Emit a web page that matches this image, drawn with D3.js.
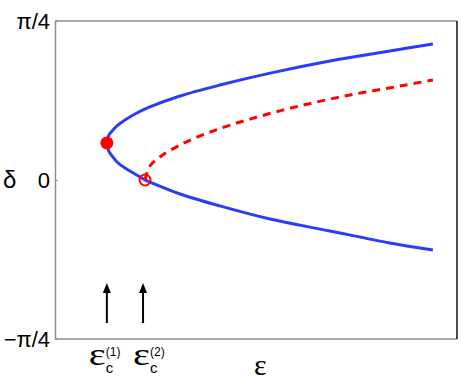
<!DOCTYPE html>
<html>
<head>
<meta charset="utf-8">
<script src="https://cdn.jsdelivr.net/npm/d3@7"></script>
<style>
  body { margin: 0; background: #fff; }
  svg { display: block; }
  .tick text { font-family: "Liberation Sans", Arial, sans-serif; font-size: 22px; fill: #000; }
</style>
</head>
<body>
<svg id="chart" width="461" height="382"></svg>
<script>
// epsilon on an arbitrary 0..1 scale, delta in radians
const upperBranch = [
  [0.129, 0.183], [0.134, 0.222], [0.142, 0.242], [0.157, 0.272], [0.174, 0.296],
  [0.199, 0.326], [0.236, 0.361], [0.311, 0.415], [0.410, 0.469], [0.535, 0.528],
  [0.684, 0.588], [0.833, 0.637], [0.940, 0.672]
];
const lowerBranch = [
  [0.129, 0.183], [0.134, 0.141], [0.142, 0.119], [0.157, 0.084], [0.174, 0.059],
  [0.199, 0.030], [0.224, 0.000], [0.236, -0.010], [0.311, -0.069], [0.410, -0.128],
  [0.535, -0.193], [0.684, -0.252], [0.833, -0.311], [0.940, -0.346]
];
const unstableBranch = [
  [0.224, 0.000], [0.236, 0.069], [0.261, 0.114], [0.311, 0.173], [0.386, 0.237],
  [0.485, 0.301], [0.609, 0.366], [0.734, 0.420], [0.858, 0.464], [0.940, 0.494]
];
const critPoints = [
  { eps: 0.129, delta: 0.183, filled: true, label: '(1)' },
  { eps: 0.224, delta: 0.000, filled: false, label: '(2)' }
];
const yTicks = [-Math.PI / 4, 0, Math.PI / 4];
const yTickLabels = ['\u2212\u03c0/4', '0', '\u03c0/4'];

const svg = d3.select('#chart');
const box = { left: 55, right: 457, top: 21, bottom: 339 };

const x = d3.scaleLinear().domain([0, 1]).range([box.left, box.right]);
const y = d3.scaleLinear().domain([-Math.PI / 4, Math.PI / 4]).range([box.bottom, box.top]);

// frame
svg.append('line').attr('x1', box.left).attr('x2', box.right).attr('y1', box.top).attr('y2', box.top)
  .attr('stroke', '#8c8c8c').attr('stroke-width', 1.5);
svg.append('line').attr('x1', box.left).attr('x2', box.right).attr('y1', box.bottom).attr('y2', box.bottom)
  .attr('stroke', '#8c8c8c').attr('stroke-width', 1.5);
svg.append('line').attr('x1', box.right).attr('x2', box.right).attr('y1', box.top).attr('y2', box.bottom)
  .attr('stroke', '#111').attr('stroke-width', 1.5);

const yAxis = d3.axisLeft(y).tickValues(yTicks)
  .tickFormat((d, i) => yTickLabels[i]).tickSizeInner(-3).tickSizeOuter(0).tickPadding(5);
const gy = svg.append('g').attr('transform', `translate(${box.left},0)`).call(yAxis);
gy.select('.domain').attr('stroke', '#8c8c8c').attr('stroke-width', 1.5);
gy.selectAll('.tick line').attr('stroke', '#8c8c8c');
gy.selectAll('.tick text').attr('dy', '0.35em');

// curves
const line = d3.line().x(d => x(d[0])).y(d => y(d[1])).curve(d3.curveCatmullRom.alpha(0.5));
const blue = upperBranch.slice().reverse().concat(lowerBranch.slice(1));
svg.append('path').attr('d', line(blue)).attr('fill', 'none')
  .attr('stroke', '#2a3cf5').attr('stroke-width', 3);
svg.append('path').attr('d', line(unstableBranch)).attr('fill', 'none')
  .attr('stroke', '#ff0000').attr('stroke-width', 3).attr('stroke-dasharray', '8,6');

svg.selectAll('.crit').data(critPoints).enter().append('circle')
  .attr('class', 'crit')
  .attr('cx', d => x(d.eps)).attr('cy', d => y(d.delta))
  .attr('r', d => d.filled ? 6.5 : 5.5)
  .attr('fill', d => d.filled ? '#ff0000' : 'none')
  .attr('stroke', '#ff0000').attr('stroke-width', d => d.filled ? 0 : 2);

// arrows under the critical points
const defs = svg.append('defs');
defs.append('marker').attr('id', 'head').attr('viewBox', '0 0 10 10')
  .attr('refX', 5).attr('refY', 5).attr('markerWidth', 5).attr('markerHeight', 5)
  .attr('orient', 'auto')
  .append('path').attr('d', 'M0,1 L10,5 L0,9 z').attr('fill', '#000');
svg.selectAll('.arrow').data(critPoints).enter().append('line')
  .attr('class', 'arrow')
  .attr('x1', (d, i) => x(d.eps) - i * 2).attr('x2', (d, i) => x(d.eps) - i * 2)
  .attr('y1', 323).attr('y2', 288)
  .attr('stroke', '#000').attr('stroke-width', 2).attr('marker-end', 'url(#head)');

// epsilon_c labels: the epsilon, then subscript and superscript as separate texts
const cl = svg.selectAll('.clabel').data(critPoints).enter().append('g')
  .attr('class', 'clabel')
  .attr('transform', (d, i) => `translate(${x(d.eps) - 18 + i * 6},365)`);
cl.append('text').attr('font-family', '"Liberation Serif", serif')
  .attr('font-size', 31).attr('transform', 'scale(1.3,1)').text('\u03b5');
cl.append('text').attr('x', 17).attr('y', 8)
  .attr('font-family', '"Liberation Sans", sans-serif').attr('font-size', 15).text('c');
cl.append('text').attr('x', 17).attr('y', -9)
  .attr('font-family', '"Liberation Sans", sans-serif').attr('font-size', 12).text(d => d.label);

// axis titles
svg.append('text').attr('x', 254).attr('y', 375)
  .attr('font-family', '"Liberation Serif", serif').attr('font-size', 30).text('\u03b5');
svg.append('text').attr('x', 3).attr('y', 188)
  .attr('font-family', '"Liberation Sans", sans-serif').attr('font-size', 24).text('\u03b4');
</script>
</body>
</html>
